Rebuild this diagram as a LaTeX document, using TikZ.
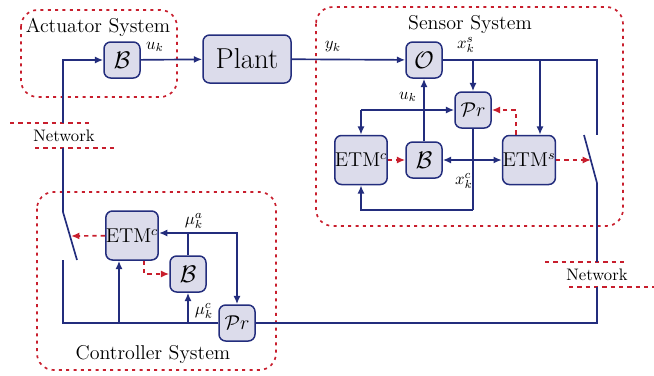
\documentclass[tikz,border=0pt]{standalone}
\usepackage{amsmath}
\usepackage{amssymb}
\usepackage{amsfonts}
\usepackage{tikz}
\usepackage{xcolor}
\usetikzlibrary{arrows.meta}

\definecolor{navy}{RGB}{35,45,125}
\definecolor{boxfill}{RGB}{220,220,235}
\definecolor{netred}{RGB}{200,30,45}

\begin{document}
\begin{tikzpicture}[x=0.6pt, y=-0.6pt, >={Latex[length=5pt,width=4.2pt]},
                    blk/.style={draw=navy, fill=boxfill, line width=0.9pt, rounded corners=4pt, minimum width=21.6pt, minimum height=21.6pt, inner sep=0pt},
                    etm/.style={blk, minimum width=30pt, minimum height=29.4pt, font=\large},
                    wire/.style={draw=navy, line width=1pt},
                    trig/.style={draw=netred, line width=1pt, dash pattern=on 2.6pt off 2.4pt},
                    region/.style={draw=netred, line width=1pt, dash pattern=on 1.8pt off 2.6pt, rounded corners=10pt},
                    lbl/.style={inner sep=0pt}]
                    \useasboundingbox (0,0) rectangle (654,376);

                    % systems
                    \draw[region] (21,10) rectangle (177,97);
                    \draw[region] (316,7) rectangle (623,226);
                    \draw[region] (37,192) rectangle (276,370);
                    \node[font=\large] (act) at (98,27) {Actuator System};
                    \node[font=\large] (sen) at (470,24) {Sensor System};
                    \node[font=\large] (con) at (153,354) {Controller System};

                    % blocks
                    \node[blk, font=\Large] (Ba) at (122,60) {$\mathcal{B}$};
                    \node[blk, minimum width=52.8pt, minimum height=28.8pt, font=\LARGE] (plant) at (247,59) {Plant};
                    \node[blk, font=\Large] (O) at (424,60) {$\mathcal{O}$};
                    \node[blk, font=\large] (Prs) at (473,110) {$\mathcal{P}r$};
                    \node[etm] (ETMcs) at (361,160) {ETM$^c$};
                    \node[blk, font=\Large] (Bs) at (424,160) {$\mathcal{B}$};
                    \node[etm] (ETMs) at (529,160) {ETM$^s$};
                    \node[etm] (ETMc) at (132,235.5) {ETM$^c$};
                    \node[blk, font=\Large] (Bc) at (188,274) {$\mathcal{B}$};
                    \node[blk, font=\large] (Prc) at (237,323) {$\mathcal{P}r$};

                    % networks
                    \draw[trig] (10,123) -- (92,123);
                    \draw[trig] (35,148) -- (117,148);
                    \node (netl) at (64,136) {Network};
                    \draw[trig] (545,262) -- (625,262);
                    \draw[trig] (569,287) -- (654,287);
                    \node (netr) at (597,275) {Network};

                    \coordinate (nl1) at (63,123);
                    \coordinate (nl2) at (63,148);
                    \coordinate (nr1) at (597,262);
                    \coordinate (nr2) at (597,287);

                    % switches
                    \coordinate (swa) at (63,212);
                    \coordinate (swb) at (63,260);
                    \coordinate (bla) at (71,236);
                    \coordinate (swc) at (597,135);
                    \coordinate (swd) at (597,183);
                    \coordinate (blb) at (591,160);
                    \draw[wire] (swa) -- (77,260);
                    \draw[wire] (584,135) -- (swd);

                    % actuator and plant
                    \draw[wire,->] (nl1) |- (Ba);
                    \draw[wire] (nl2) -- (swa);
                    \draw[wire,->] (Ba) -- (plant);
                    \node[lbl] (uka) at (155,47) {$u_k$};
                    \draw[wire,->] (plant) -- (O);
                    \node[lbl] (yk) at (333,47) {$y_k$};

                    % sensor
                    \coordinate (j4) at (473,60);
                    \coordinate (j5) at (540,60);
                    \coordinate (j6) at (361,110);
                    \coordinate (j7) at (473,210);
                    \draw[wire] (O) -| (swc);
                    \draw[wire,->] (j4) -- (Prs);
                    \draw[wire,->] (j5) -- (j5 |- ETMs.north);
                    \node[lbl] (xks) at (466,45) {$x_k^s$};
                    \draw[wire,->] (Bs) -- (O);
                    \node[lbl] (uks) at (408,97) {$u_k$};
                    \draw[wire,->] (j6) -- (Prs);
                    \draw[wire,->] (j6) -- (ETMcs);
                    \draw[trig,->] (ETMcs) -- (Bs);
                    \draw[wire,<->] (Bs) -- (ETMs);
                    \draw[trig,->] (ETMs) -- (blb);
                    \draw[trig,->] ([xshift=-7.8pt]ETMs.north) |- (Prs);
                    \draw[wire] (Prs) -- (j7);
                    \draw[wire,->] (j7) -| (ETMcs);
                    \node[lbl] (xkc) at (464,181) {$x_k^c$};
                    \draw[wire] (swd) -- (nr1);
                    \draw[wire] (nr2) |- (Prc);

                    % controller
                    \coordinate (j1) at (119,323);
                    \coordinate (j2) at (188,323);
                    \coordinate (j3) at (188,233);
                    \draw[wire] (Prc) -| (swb);
                    \draw[wire,->] (j1) -- (j1 |- ETMc.south);
                    \draw[wire,->] (j2) -- (Bc);
                    \node[lbl] (mukc) at (204,311) {$\mu_k^c$};
                    \draw[wire] (Bc) -- (j3);
                    \draw[wire,->] (j3) -- (j3 -| ETMc.east);
                    \draw[wire,->] (j3) -| (Prc);
                    \node[lbl] (muka) at (194,221) {$\mu_k^a$};
                    \draw[trig,->] (ETMc) -- (bla);
                    \draw[trig,->] ([xshift=7.2pt]ETMc.south) |- (Bc);
                \end{tikzpicture}
\end{document}
